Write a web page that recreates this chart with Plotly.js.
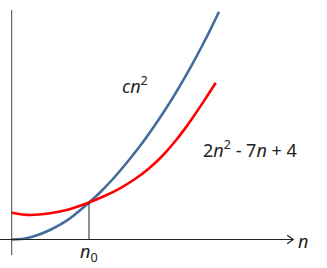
<!DOCTYPE html>
<html>
<head>
<meta charset="utf-8">
<script src="https://cdn.plot.ly/plotly-3.0.1.min.js"></script>
<style>html,body{margin:0;padding:0;background:#fff;}#chart{width:327px;height:268px;}</style>
</head>
<body>
<div id="chart"></div>
<script>
// cn^2 curve
const blueX = [0, 1.03, 2.16, 3.83, 5.5, 7.73, 8.83, 10.16, 11.83, 13.13, 14.33, 15.43, 16.33, 17.23, 18.13, 19.03, 19.93, 20.73];
const blueY = [0, 0.05, 0.3, 0.95, 1.88, 3.7, 4.7, 6.1, 8.08, 9.75, 11.45, 13.1, 14.54, 16.06, 17.66, 19.35, 21.12, 22.77];
// 2n^2 - 7n + 4 curve
const redX = [0, 1.83, 3.83, 5.5, 7.73, 9.33, 10.83, 12.33, 13.63, 14.63, 15.53, 16.43, 17.23, 18.03, 18.73, 19.38, 20.4];
const redY = [2.68, 2.45, 2.62, 2.95, 3.7, 4.37, 5.12, 6.05, 7.03, 7.93, 8.87, 9.92, 10.96, 12.08, 13.11, 14.09, 15.68];
const n0 = 7.73;
const n0Y = 3.7;
const labels = {blue: '<i>c</i><i>n</i><sup>2</sup>', red: '2<i>n</i><sup>2</sup> - 7<i>n</i> + 4', axis: '<i>n</i>', n0: '<i>n</i><sub>0</sub>'};

const font = {family: 'Noto Sans, Open Sans, sans-serif', size: 18, color: '#222'};

const traces = [
  {x: blueX, y: blueY, mode: 'lines', line: {color: '#456b9a', width: 2.6, shape: 'spline', smoothing: 1}, hoverinfo: 'skip'},
  {x: redX, y: redY, mode: 'lines', line: {color: '#ff0000', width: 2.6, shape: 'spline', smoothing: 1}, hoverinfo: 'skip'}
];

const layout = {
  width: 327, height: 268,
  margin: {l: 0, r: 0, t: 0, b: 0},
  paper_bgcolor: '#fff', plot_bgcolor: '#fff',
  showlegend: false,
  xaxis: {range: [-1.17, 31.53], visible: false, showgrid: false, zeroline: false},
  yaxis: {range: [-2.85, 23.95], visible: false, showgrid: false, zeroline: false},
  shapes: [
    {type: 'line', x0: 0, x1: 0, y0: -1.55, y1: 22.95, line: {color: '#444', width: 1}},
    {type: 'line', x0: -1.17, x1: 28.1, y0: 0, y1: 0, line: {color: '#222', width: 1.2}},
    {type: 'path', path: 'M 27.55 0.42 L 28.15 0 L 27.55 -0.42', line: {color: '#222', width: 1.2}},
    {type: 'line', x0: n0, x1: n0, y0: 0, y1: n0Y, line: {color: '#222', width: 1}}
  ],
  annotations: [
    {x: 12.3, y: 15.45, text: labels.blue, showarrow: false, font: font},
    {x: 23.85, y: 9.05, text: labels.red, showarrow: false, font: font},
    {x: 29.15, y: -0.1, text: labels.axis, showarrow: false, font: font},
    {x: n0, y: -1.25, text: labels.n0, showarrow: false, font: font}
  ]
};

Plotly.newPlot('chart', traces, layout, {staticPlot: true, displayModeBar: false});
</script>
</body>
</html>
